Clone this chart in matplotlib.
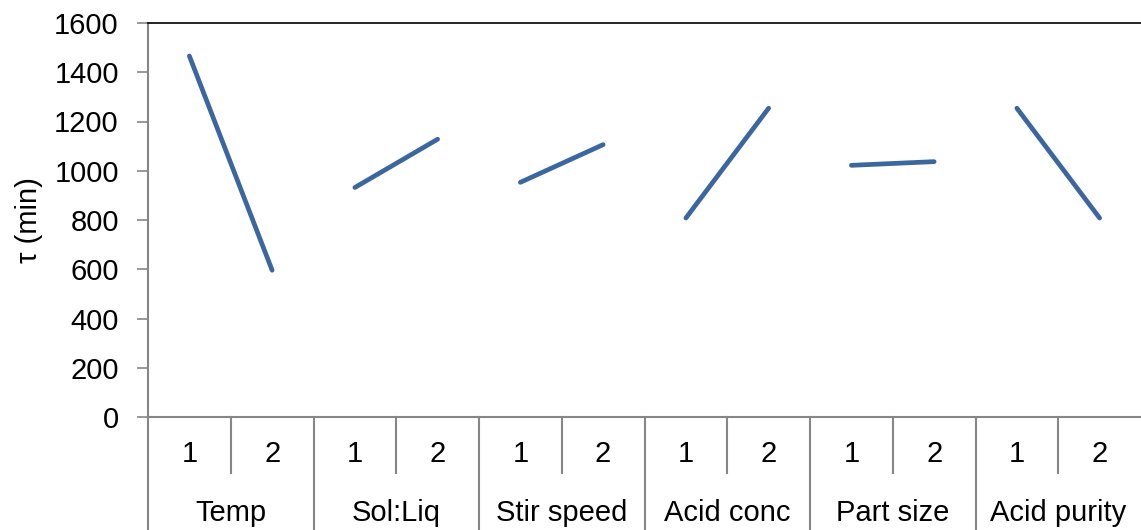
import matplotlib.pyplot as plt
from matplotlib.transforms import blended_transform_factory

plt.rcParams['font.family'] = ['Liberation Sans', 'DejaVu Sans']

# factors and their two levels
factors = ['Temp', 'Sol:Liq', 'Stir speed', 'Acid conc', 'Part size', 'Acid purity']
levels = ['1', '2']
# mean time at each level
tau_level1 = [1466, 932, 953, 808, 1022, 1254]
tau_level2 = [596, 1128, 1106, 1254, 1037, 808]

fig = plt.figure(figsize=(11.41, 5.30), dpi=100)
ax = fig.add_axes([148 / 1141, 1 - 417 / 530, 1 - 148 / 1141, 394 / 530])

line_color = '#3b679e'
axis_color = '#868686'
fs = 21

for i in range(len(factors)):
    xs = [2 * i, 2 * i + 1]
    ax.plot(xs, [tau_level1[i], tau_level2[i]], color=line_color, lw=3.4,
            solid_capstyle='round')

ax.set_xlim(-0.5, 2 * len(factors) - 0.5)
ax.set_ylim(0, 1600)
ax.set_yticks(range(0, 1601, 200))
ax.tick_params(axis='y', length=8, width=1.2, color=axis_color, pad=13,
               labelsize=fs)
ax.set_xticks([])
ax.set_ylabel('τ (min)', fontsize=fs, labelpad=8)

for side in ['left', 'bottom']:
    ax.spines[side].set_color(axis_color)
    ax.spines[side].set_linewidth(1.5)
ax.spines['top'].set_color('black')
ax.spines['top'].set_linewidth(1.2)
ax.spines['right'].set_visible(False)

# two-row category axis below the plot
trans = blended_transform_factory(ax.transData, ax.transAxes)
axes_h = 394
row1_y = -(454 - 417) / axes_h
row2_y = -(521 - 417) / axes_h
minor_end = -(473 - 417) / axes_h
major_end = -(540 - 417) / axes_h

for i, name in enumerate(factors):
    for j, lev in enumerate(levels):
        ax.text(2 * i + j, row1_y, lev, transform=trans, ha='center',
                va='center', fontsize=fs)
    ax.text(2 * i + 0.5, row2_y, name, transform=trans, ha='center',
            va='baseline', fontsize=fs)
    # separator between the two levels
    ax.plot([2 * i + 0.5] * 2, [0, minor_end], transform=trans,
            color=axis_color, lw=1.5, clip_on=False)
    # separator between factors
    ax.plot([2 * i - 0.5] * 2, [0, major_end], transform=trans,
            color=axis_color, lw=1.5, clip_on=False)

fig.savefig('out.png', dpi=100)
